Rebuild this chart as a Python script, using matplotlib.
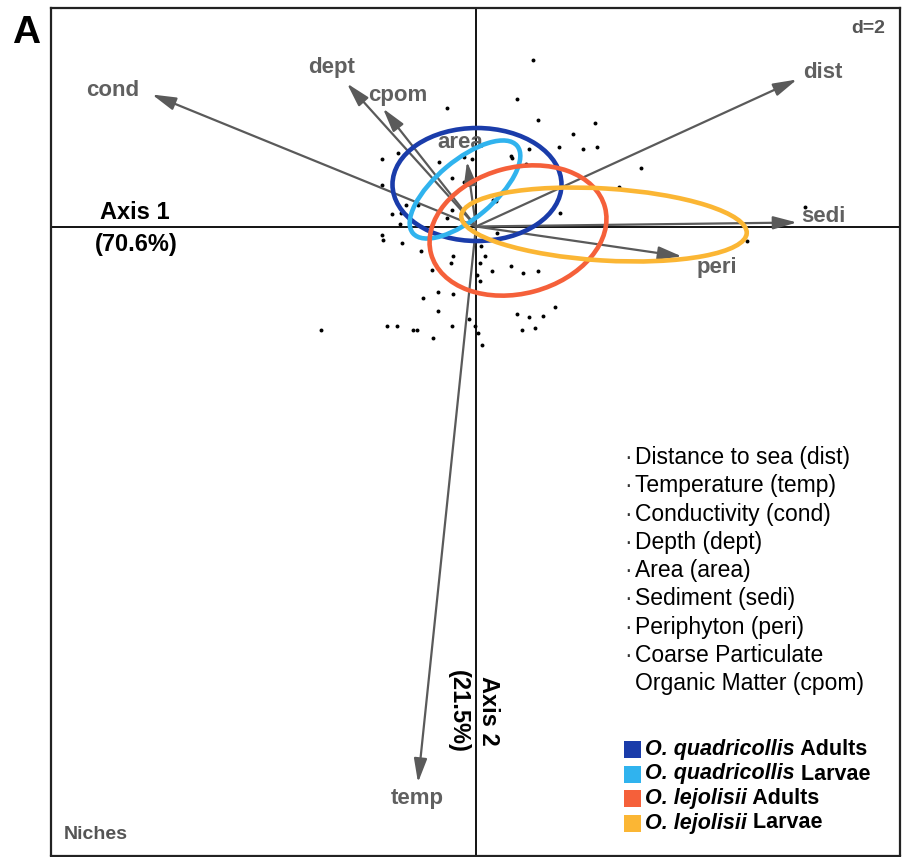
import matplotlib
matplotlib.use('Agg')
import matplotlib.pyplot as plt
from matplotlib.patches import Ellipse, Rectangle

plt.rcParams['font.family'] = ['Liberation Sans', 'DejaVu Sans']

# environmental variables: arrow tips in the ordination plane
var_names = ['dist', 'temp', 'cond', 'dept', 'area', 'sedi', 'peri', 'cpom']
var_x = [3.21, -0.58, -3.24, -1.29, -0.09, 3.21, 2.06, -0.93]
var_y = [1.47, -5.56, 1.32, 1.43, 0.65, 0.04, -0.30, 1.18]

var_desc = ['Distance to sea (dist)', 'Temperature (temp)', 'Conductivity (cond)',
            'Depth (dept)', 'Area (area)', 'Sediment (sedi)', 'Periphyton (peri)',
            'Coarse Particulate', 'Organic Matter (cpom)']

# sampling sites
site_x = [0.57, 0.41, -0.29, 0.62, 1.19, 0.97, 0.83, 1.07, 1.21, 0.53,
          -0.78, -0.94, -0.12, -0.04, 0.35, 0.36, -0.37, 0.50, -0.24, -0.12,
          -0.94, 0.17, 0.20, 0.84, -0.84, -0.75, -0.70, -0.58, -0.24, -0.29,
          -0.76, -0.94, -0.93, -0.74, 0.21, 0.05, -0.55, -0.23, 0.09, -0.25,
          0.04, -0.44, 0.16, 0.35, 0.47, 0.62, 0.01, 0.04, -0.38, -0.23,
          -0.53, -0.38, 0.79, 0.41, 0.53, 0.67, -0.07, -1.55, -0.89, -0.79,
          -0.63, -0.59, -0.24, -0.01, 0.46, 0.59, -0.43, 0.02, 0.06, 1.65,
          1.43, 3.29, 2.71]
site_y = [1.67, 1.28, 1.19, 1.07, 1.04, 0.93, 0.80, 0.78, 0.80, 0.78,
          0.74, 0.68, 0.70, 0.68, 0.71, 0.69, 0.65, 0.63, 0.49, 0.45,
          0.42, 0.27, 0.26, 0.14, 0.13, 0.14, 0.22, 0.22, 0.17, 0.09,
          0.03, -0.08, -0.13, -0.16, -0.06, -0.19, -0.24, -0.29, -0.29, -0.36,
          -0.36, -0.43, -0.44, -0.39, -0.46, -0.44, -0.48, -0.54, -0.65, -0.67,
          -0.71, -0.84, -0.80, -0.87, -0.90, -0.89, -0.92, -1.03, -0.99, -0.99,
          -1.03, -1.03, -0.99, -0.99, -1.03, -1.01, -1.11, -1.06, -1.18, 0.59,
          0.40, 0.20, -0.14]

# niche ellipses per group
grp_species = ['O. quadricollis', 'O. quadricollis', 'O. lejolisii', 'O. lejolisii']
grp_stage = ['Adults', 'Larvae', 'Adults', 'Larvae']
ell_cx = [0.01, -0.11, 0.42, 1.28]
ell_cy = [0.42, 0.37, -0.04, 0.02]
ell_w = [1.69, 1.36, 1.80, 2.86]
ell_h = [1.13, 0.58, 1.26, 0.72]
ell_ang = [0, 40, 15, -3.5]
grp_colors = ['#1a3caa', '#30b3ee', '#f5603a', '#fbb634']

# label offsets from arrow tips (pixels)
lab_off = {'dist': (26, 7), 'temp': (-1, -16), 'cond': (-39, 4), 'dept': (-15, 16),
           'area': (-7, 19), 'sedi': (26, 6), 'peri': (35, -11), 'cpom': (15, 13)}

fig = plt.figure(figsize=(9.02, 8.57), dpi=100)
ax = fig.add_axes([51 / 902, 1.5 / 857, 849 / 902, 848 / 857])
ax.set_xlim(-4.25, 4.24)
ax.set_ylim(-6.29, 2.19)
ax.set_xticks([])
ax.set_yticks([])
for s in ax.spines.values():
    s.set_linewidth(1.6)
    s.set_color('#222222')

ax.axhline(0, color='black', lw=1.3, zorder=1)
ax.axvline(0, color='black', lw=1.3, zorder=1)

ax.scatter(site_x, site_y, s=8, color='black', marker='o', linewidths=0, zorder=2)

arrow_col = '#5a5a5a'
for name, x, y in zip(var_names, var_x, var_y):
    ax.annotate('', xy=(x, y), xytext=(0, 0),
                arrowprops=dict(arrowstyle='-|>,head_length=0.8,head_width=0.22',
                                color=arrow_col, lw=1.6, mutation_scale=18,
                                shrinkA=0, shrinkB=0), zorder=3)
    ax.annotate(name, xy=(x, y), xytext=lab_off[name], textcoords='offset pixels',
                ha='center', va='center', fontsize=16, fontweight='bold',
                color='#606060', zorder=3)

for cx, cy, w, h, a, c in zip(ell_cx, ell_cy, ell_w, ell_h, ell_ang, grp_colors):
    ax.add_patch(Ellipse((cx, cy), w, h, angle=a, fill=False, ec=c, lw=3.3, zorder=4))

# axis captions
ax.text(-3.41, 0.14, 'Axis 1', ha='center', va='center', fontsize=17, fontweight='bold')
ax.text(-3.40, -0.18, '(70.6%)', ha='center', va='center', fontsize=17, fontweight='bold')
ax.text(0.12, -4.84, 'Axis 2', ha='center', va='center', fontsize=17,
        fontweight='bold', rotation=-90)
ax.text(-0.18, -4.85, '(21.5%)', ha='center', va='center', fontsize=17,
        fontweight='bold', rotation=-90)

ax.text(3.92, 1.98, 'd=2', ha='center', va='center', fontsize=14,
        fontweight='bold', color='#555555')
ax.text(-4.12, -6.08, 'Niches', ha='left', va='center', fontsize=14,
        fontweight='bold', color='#555555')

# variable description list
for i, d in enumerate(var_desc):
    y = -2.31 - i * 0.283
    if i < len(var_desc) - 1:
        ax.text(1.48, y, '·', ha='left', va='center', fontsize=16.5, color='#333333')
    ax.text(1.59, y, d, ha='left', va='center', fontsize=16.5)

# group legend
fig.canvas.draw()
renderer = fig.canvas.get_renderer()
inv = ax.transData.inverted()
for i, (sp, st, c) in enumerate(zip(grp_species, grp_stage, grp_colors)):
    y = -5.23 - i * 0.245
    ax.add_patch(Rectangle((1.48, y - 0.085), 0.17, 0.17, color=c, lw=0))
    t = ax.text(1.69, y - 0.055, sp, ha='left', va='baseline', fontsize=15.5,
                fontweight='bold', fontstyle='italic')
    x_end = inv.transform(t.get_window_extent(renderer).get_points())[1][0]
    ax.text(x_end, y - 0.055, ' ' + st, ha='left', va='baseline', fontsize=15.5,
            fontweight='bold')

fig.text(26 / 902, 1 - 33 / 857, 'A', ha='center', va='center', fontsize=28,
         fontweight='bold')

fig.savefig('out.png', dpi=100)
